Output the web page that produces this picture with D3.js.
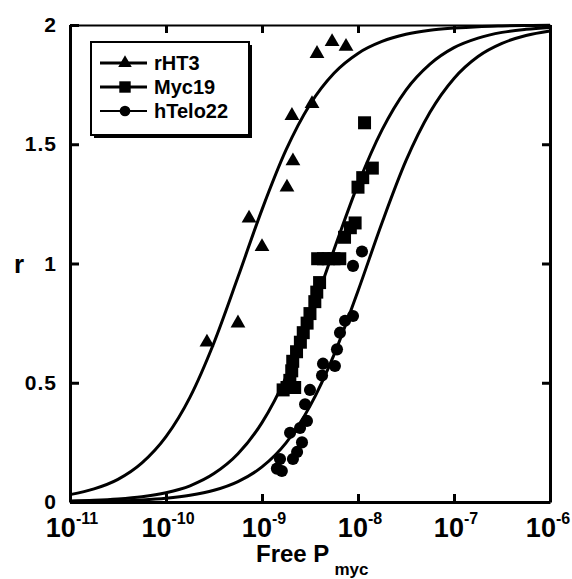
<!DOCTYPE html>
<html>
<head>
<meta charset="utf-8">
<script src="https://cdn.jsdelivr.net/npm/d3@7"></script>
<style>
	body { margin: 0; background: #fff; }
	svg text { font-family: "Liberation Sans", Arial, sans-serif; fill: #000; }
</style>
</head>
<body>
<div class="chart"></div>
<script>
// data
var seriesNames = ["rHT3", "Myc19", "hTelo22"];

var rHT3X = [2.67e-10, 5.62e-10, 7.33e-10, 1.0e-9, 1.82e-9, 2.10e-9, 2.05e-9, 3.32e-9, 3.74e-9, 5.37e-9, 7.50e-9],
	rHT3R = [0.67, 0.75, 1.19, 1.07, 1.32, 1.43, 1.62, 1.67, 1.88, 1.93, 1.91];

var myc19X = [1.66e-9, 1.82e-9, 2.19e-9, 1.95e-9, 2.04e-9, 2.09e-9, 2.29e-9, 2.51e-9, 2.69e-9, 2.95e-9, 3.16e-9, 3.55e-9, 3.72e-9,
		3.98e-9, 3.80e-9, 4.37e-9, 4.90e-9, 5.62e-9, 6.46e-9, 7.24e-9, 8.32e-9, 9.33e-9, 1.0e-8, 1.12e-8, 1.41e-8, 1.17e-8],
	myc19R = [0.47, 0.48, 0.48, 0.51, 0.55, 0.59, 0.63, 0.67, 0.71, 0.75, 0.79, 0.84, 0.88,
		0.92, 1.02, 1.02, 1.02, 1.02, 1.02, 1.11, 1.15, 1.17, 1.32, 1.36, 1.40, 1.59];

var hTelo22X = [1.10e-8, 8.87e-9, 8.87e-9, 7.33e-9, 6.49e-9, 6.04e-9, 5.75e-9, 4.32e-9, 4.22e-9, 3.16e-9, 2.81e-9, 2.94e-9,
		2.49e-9, 1.96e-9, 2.61e-9, 2.32e-9, 2.10e-9, 1.54e-9, 1.43e-9, 1.61e-9],
	hTelo22R = [1.05, 0.99, 0.78, 0.76, 0.71, 0.64, 0.57, 0.58, 0.53, 0.47, 0.41, 0.34,
		0.31, 0.29, 0.25, 0.21, 0.18, 0.18, 0.14, 0.13];

// fitted curves, read every quarter decade
var fitX = [1e-11, 1.78e-11, 3.16e-11, 5.62e-11, 1e-10, 1.78e-10, 3.16e-10, 5.62e-10, 1e-9, 1.78e-9, 3.16e-9,
	5.62e-9, 1e-8, 1.78e-8, 3.16e-8, 5.62e-8, 1e-7, 1.78e-7, 3.16e-7, 5.62e-7, 1e-6];
var rHT3Fit = [0.031, 0.055, 0.095, 0.164, 0.274, 0.44, 0.668, 0.943, 1.226, 1.476, 1.667,
	1.798, 1.881, 1.931, 1.961, 1.978, 1.987, 1.993, 1.996, 1.998, 1.999];
var myc19Fit = [0.004, 0.007, 0.0125, 0.022, 0.039, 0.068, 0.119, 0.202, 0.333, 0.524, 0.774,
	1.058, 1.332, 1.56, 1.727, 1.836, 1.905, 1.945, 1.969, 1.982, 1.99];
var hTelo22Fit = [0.0016, 0.0028, 0.005, 0.0089, 0.0158, 0.028, 0.049, 0.0855, 0.147, 0.248, 0.402,
	0.617, 0.885, 1.171, 1.431, 1.634, 1.776, 1.868, 1.923, 1.956, 1.975];

var xTicks = [1e-11, 1e-10, 1e-9, 1e-8, 1e-7, 1e-6],
	xTickExp = ["-11", "-10", "-9", "-8", "-7", "-6"];
var yTicks = [0, 0.5, 1, 1.5, 2];

var width = 572,
	height = 579;

var svg = d3.select(".chart").append("svg")
	.attr("width", width)
	.attr("height", height);

var x = d3.scaleLog().domain([1e-11, 1e-6]).range([70, 550]);
var y = d3.scaleLinear().domain([0, 2]).range([502, 25]);

// frame axes, ticks pointing inward
var axisTopG = svg.append("g")
	.attr("transform", "translate(0,25)")
	.call(d3.axisTop(x).tickValues(xTicks).tickSize(-8).tickSizeOuter(0).tickFormat(""));
var axisRightG = svg.append("g")
	.attr("transform", "translate(550,0)")
	.call(d3.axisRight(y).tickValues(yTicks).tickSize(-8).tickSizeOuter(0).tickFormat(""));
var axisBottomG = svg.append("g")
	.attr("transform", "translate(0,502)")
	.call(d3.axisBottom(x).tickValues(xTicks).tickSize(-8).tickSizeOuter(0).tickFormat(""));
var axisLeftG = svg.append("g")
	.attr("transform", "translate(70,0)")
	.call(d3.axisLeft(y).tickValues(yTicks).tickSize(-9).tickSizeOuter(0).tickPadding(13).tickFormat(d3.format("")));

[axisTopG, axisRightG, axisBottomG, axisLeftG].forEach(function(g) {
	g.selectAll("path, line").attr("stroke", "#000").attr("stroke-width", 3);
});
axisTopG.select("path").attr("stroke-width", 2);

axisLeftG.selectAll("text")
	.attr("font-size", 21)
	.attr("font-weight", "bold")
	.attr("letter-spacing", 1)
	.attr("font-family", "Liberation Sans, Arial, sans-serif");

// x tick labels with exponents
var xl = svg.selectAll(".xlabel")
	.data(xTicks).enter()
	.append("text")
	.attr("class", "xlabel")
	.attr("x", function(d) { return Math.min(x(d) + 2, 548); })
	.attr("y", 537)
	.attr("text-anchor", "middle")
	.attr("font-weight", "bold");
xl.append("tspan").attr("font-size", 27).text("10");
xl.append("tspan").attr("font-size", 16).attr("dy", -13)
	.text(function(d, i) { return xTickExp[i]; });

// axis titles
var xt = svg.append("text")
	.attr("x", 256)
	.attr("y", 562)
	.attr("font-size", 24)
	.attr("font-weight", "bold");
xt.append("tspan").text("Free P");
xt.append("tspan").attr("font-size", 17).attr("dx", 5).attr("dy", 13).text("myc");

svg.append("text")
	.attr("x", 19)
	.attr("y", 273)
	.attr("text-anchor", "middle")
	.attr("font-size", 26)
	.attr("font-weight", "bold")
	.text("r");

// fit curves
var line = d3.line()
	.x(function(d) { return x(d[0]); })
	.y(function(d) { return y(d[1]); })
	.curve(d3.curveMonotoneX);

[rHT3Fit, myc19Fit, hTelo22Fit].forEach(function(fit) {
	svg.append("path")
		.datum(d3.zip(fitX, fit))
		.attr("fill", "none")
		.attr("stroke", "#000")
		.attr("stroke-width", 3)
		.attr("d", line);
});

// points
var symbols = [
	d3.symbol().type(d3.symbolTriangle).size(95),
	d3.symbol().type(d3.symbolSquare).size(169),
	d3.symbol().type(d3.symbolCircle).size(115)
];
var pointSets = [d3.zip(rHT3X, rHT3R), d3.zip(myc19X, myc19R), d3.zip(hTelo22X, hTelo22R)];

pointSets.forEach(function(pts, k) {
	svg.append("g").selectAll("path")
		.data(pts).enter()
		.append("path")
		.attr("transform", function(d) { return "translate(" + x(d[0]) + "," + y(d[1]) + ")"; })
		.attr("d", symbols[k])
		.attr("fill", "#000");
});

// legend
var legend = svg.append("g").attr("transform", "translate(91,42)");
legend.append("rect")
	.attr("x", 3).attr("y", 3)
	.attr("width", 158).attr("height", 93)
	.attr("fill", "#000");
legend.append("rect")
	.attr("width", 158).attr("height", 93)
	.attr("fill", "#fff")
	.attr("stroke", "#000")
	.attr("stroke-width", 2);

var legendSymbols = [
	d3.symbol().type(d3.symbolTriangle).size(80),
	d3.symbol().type(d3.symbolSquare).size(130),
	d3.symbol().type(d3.symbolCircle).size(90)
];

var rows = legend.selectAll(".row")
	.data(seriesNames).enter()
	.append("g")
	.attr("transform", function(d, i) { return "translate(0," + (21 + 24 * i) + ")"; });
rows.append("line")
	.attr("x1", 9).attr("x2", 56)
	.attr("stroke", "#000")
	.attr("stroke-width", function(d, i) { return i == 2 ? 2 : 3; });
rows.append("path")
	.attr("transform", "translate(34,0)")
	.attr("d", function(d, i) { return legendSymbols[i](); })
	.attr("fill", "#000");
rows.append("text")
	.attr("x", 63)
	.attr("dy", "0.36em")
	.attr("font-size", 20)
	.attr("font-weight", "bold")
	.text(function(d) { return d; });
</script>
</body>
</html>
